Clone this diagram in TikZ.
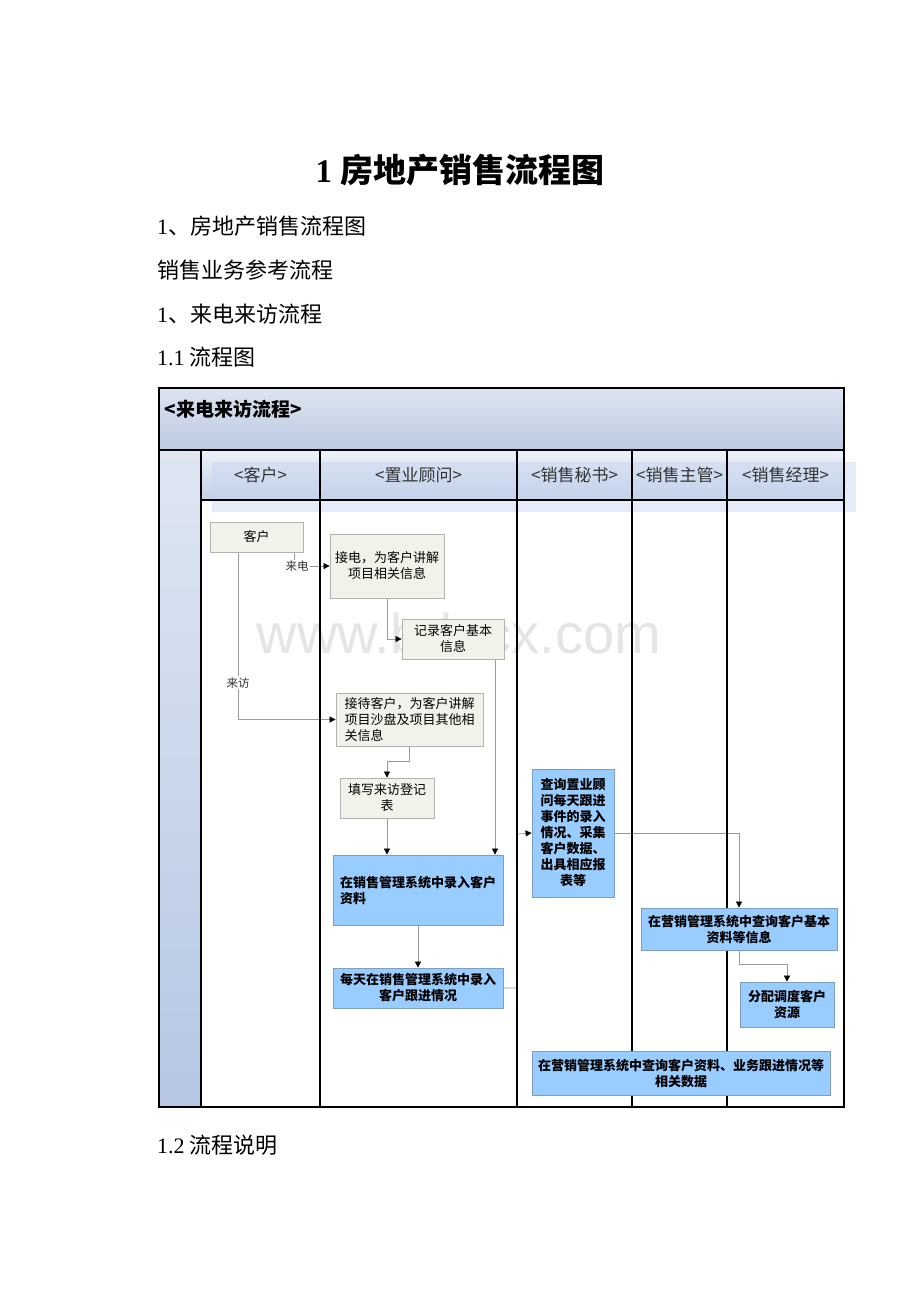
\documentclass[tikz,border=0pt]{standalone}
\usepackage{fontspec}
\setmainfont{Liberation Serif}
\newfontfamily\cjk{Noto Sans CJK SC}
\newfontfamily\wmfont{Liberation Sans}
\usetikzlibrary{arrows.meta,positioning}

\definecolor{bandtop}{HTML}{DDE4F0}
\definecolor{bandbot}{HTML}{BCCAE2}
\definecolor{headtop}{HTML}{EEF2F8}
\definecolor{headbot}{HTML}{C2D0E8}
\definecolor{coltop}{HTML}{DFE6F2}
\definecolor{colbot}{HTML}{B5C7E4}
\definecolor{ghostblue}{HTML}{C6D5EE}
\definecolor{boxgray}{HTML}{F2F2EA}
\definecolor{boxblue}{HTML}{99CCFF}
\definecolor{blueedge}{HTML}{7F9DBF}
\definecolor{lineg}{HTML}{9A9A9A}

\pgfdeclarelayer{back}
\pgfdeclarelayer{links}
\pgfdeclarelayer{lanes}
\pgfsetlayers{back,links,lanes,main}

\begin{document}
\begin{tikzpicture}[x=1pt, y=-1pt,
    graybox/.style={draw=gray!60, fill=boxgray, line width=0.8pt, inner sep=2pt, align=center, font=\cjk\fontsize{13}{16}\selectfont},
    bluebox/.style={draw=blueedge, fill=boxblue, line width=0.8pt, inner sep=2pt, align=center, font=\cjk\bfseries\fontsize{13}{16}\selectfont},
    flow/.style={lineg, line width=0.7pt, -{Triangle[length=6pt, width=6pt, color=black]}},
    tag/.style={fill=white, inner sep=1pt, text=black!80, font=\cjk\fontsize{11.5}{13}\selectfont},
    lanelabel/.style={text=black!80, font=\cjk\fontsize{17}{19}\selectfont},
    bodyline/.style={anchor=west, inner sep=0pt, font=\cjk\fontsize{22}{26}\selectfont}]

    \useasboundingbox (0,0) rectangle (920,1302);

    % Hintergrund: Kopfband, linke Spalte, Bahnköpfe
    \begin{pgfonlayer}{back}
        \fill[white] (0,0) rectangle (920,1302);
        \shade[top color=bandtop, bottom color=bandbot] (159,388) rectangle (844,450);
        \shade[top color=coltop, bottom color=colbot] (159,450) rectangle (201,1107);
        \foreach \xl/\xr in {201/320, 320/517, 517/632, 632/727, 727/844}
            \shade[top color=headtop, bottom color=headbot] (\xl,450) rectangle (\xr,500);
        \fill[ghostblue, opacity=0.45] (212,462) rectangle (856,512);
    \end{pgfonlayer}

    % Titel und Text
    \node[font=\bfseries\fontsize{33}{38}\selectfont] (title) at (460,170) {1 {\cjk 房地产销售流程图}};
    \node[bodyline] (line1) at (157,226) {{\rmfamily 1}、房地产销售流程图};
    \node[bodyline] (line2) at (157,270) {销售业务参考流程};
    \node[bodyline] (line3) at (157,314) {{\rmfamily 1}、来电来访流程};
    \node[bodyline] (line4) at (157,357) {{\rmfamily 1.1} 流程图};
    \node[bodyline] (line5) at (157,1145) {{\rmfamily 1.2} 流程说明};

    % Kopfzeilen
    \node[anchor=west, font=\cjk\bfseries\fontsize{19}{22}\selectfont] (bandtitle) at (161,409) {<来电来访流程>};
    \foreach \cx/\lab [count=\i] in {260.5/客户, 418.5/置业顾问, 574.5/销售秘书, 679.5/销售主管, 785.5/销售经理}
        \node[lanelabel] (head\i) at (\cx,475) {<\lab>};

    % Bahnen
    \begin{pgfonlayer}{lanes}
        \draw[line width=2.5pt] (159,388) rectangle (844,1107);
        \draw[line width=2.5pt] (159,450) -- (844,450);
        \draw[line width=2.5pt] (201,500) -- (844,500);
        \foreach \x in {201,320,517,632,727}
            \draw[line width=2.5pt] (\x,450) -- (\x,1107);
    \end{pgfonlayer}

    % Kästen
    \node[graybox, minimum width=93, minimum height=30] (kehu) at (256.5,537) {客户};
    \node[graybox, minimum width=114, minimum height=64] (jiedian) at (387,566) {接电，为客户讲解\\项目相关信息};
    \node[graybox, minimum width=102, minimum height=40] (jilu) at (453,639) {记录客户基本\\信息};
    \node[graybox, align=left, minimum width=147, minimum height=53] (jiedai) at (409.5,719.5) {接待客户，为客户讲解\\项目沙盘及项目其他相\\关信息};
    \node[graybox, minimum width=94, minimum height=40] (tianxie) at (387,798) {填写来访登记\\表};
    \node[bluebox, align=left, minimum width=170, minimum height=70] (luru) at (418,890) {在销售管理系统中录入客户\\资料};
    \node[bluebox, minimum width=170, minimum height=40] (meitian) at (418,988) {每天在销售管理系统中录入\\客户跟进情况};
    \node[bluebox, minimum width=82, minimum height=128] (chaxun) at (573,833) {查询置业顾\\问每天跟进\\事件的录入\\情况、采集\\客户数据、\\出具相应报\\表等};
    \node[bluebox, minimum width=196, minimum height=42] (jiben) at (739,929) {在营销管理系统中查询客户基本\\资料等信息};
    \node[bluebox, minimum width=94, minimum height=45] (fenpei) at (787,1004.5) {分配调度客户\\资源};
    \node[bluebox, minimum width=298, minimum height=44] (shuju) at (681,1073) {在营销管理系统中查询客户资料、业务跟进情况等\\相关数据};

    % Verbindungen
    \coordinate (bend) at (517,834);
    \begin{pgfonlayer}{links}
        % Wasserzeichen
        \node[text=black!10, font=\wmfont\fontsize{56}{60}\selectfont] (mark) at (459,633) {www.bdocx.com};
        \draw[flow] ([xshift=37.5pt]kehu.south) |- node[tag, pos=0.5, xshift=3pt] (laidian) {来电} (jiedian.west);
        \draw[flow] ([xshift=-18.5pt]kehu.south) |- node[tag, pos=0.39] (laifang) {来访} (jiedai.west);
        \draw[flow] (jiedian.south) |- (jilu.west);
        \draw[flow] ([xshift=42pt]jilu.south) -- ([xshift=42pt]jilu.south |- luru.north);
        \draw[flow] (jiedai.south) -- ++(0,15) -| (tianxie.north);
        \draw[flow] (tianxie.south) -- (tianxie.south |- luru.north);
        \draw[flow] (luru.south) -- (meitian.north);
        \draw[flow] (meitian.east) -| (bend) -- (chaxun.west);
        \draw[flow] (chaxun.east) -| (jiben.north);
        \draw[flow] (jiben.south) -- ++(0,14) -| (fenpei.north);
    \end{pgfonlayer}
\end{tikzpicture}
\end{document}
